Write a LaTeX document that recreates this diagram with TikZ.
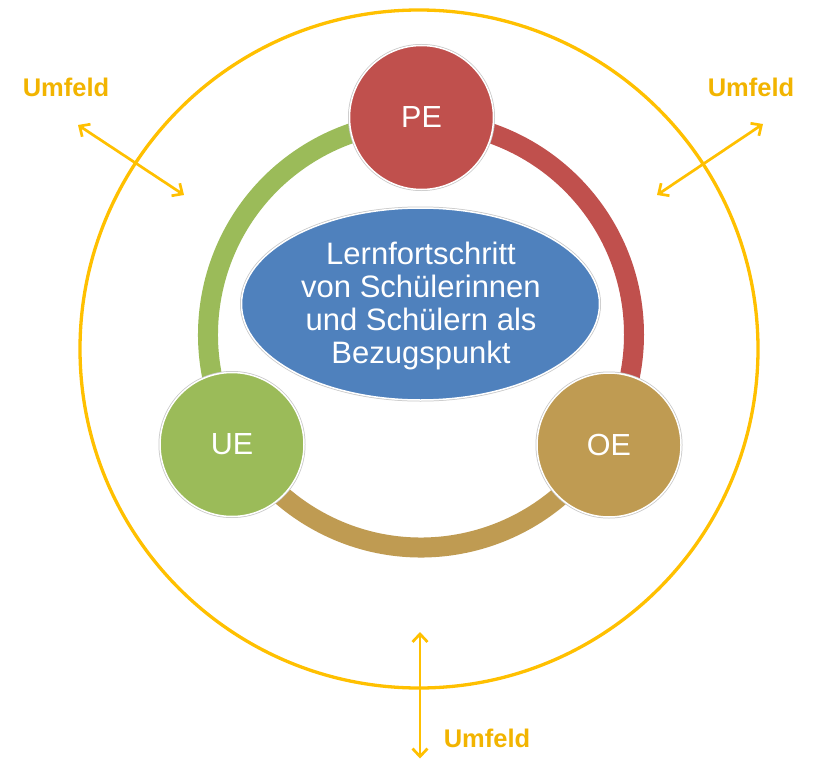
\documentclass[tikz,border=0pt]{standalone}
\usepackage{fontspec}
\setmainfont{Liberation Sans}
\usetikzlibrary{shapes.geometric,arrows.meta}
\definecolor{gold}{HTML}{FFC000}
\definecolor{goldtext}{HTML}{F2B400}
\definecolor{pered}{HTML}{C0504D}
\definecolor{uegreen}{HTML}{9BBB59}
\definecolor{oetan}{HTML}{BF9B52}
\definecolor{ellblue}{HTML}{4F81BD}
\begin{document}
\begin{tikzpicture}[x=1pt,y=-1pt,
  bubble/.style={circle, minimum size=144pt, inner sep=0pt, text=white,
    font=\fontsize{30.5}{36}\selectfont, draw=white, line width=1.5pt,
    preaction={draw=black!22, line width=3pt}},
  ringarc/.style={line width=20pt},
  envarrow/.style={draw=gold, line width=2.7pt,
    {Straight Barb[length=8pt,width=15pt]}-{Straight Barb[length=8pt,width=15pt]}},
  envlabel/.style={text=goldtext, font=\bfseries\fontsize{25.5}{30}\selectfont,
    anchor=base, inner sep=0pt}]
\useasboundingbox (0,0) rectangle (814,760);
\fill[white] (0,0) rectangle (814,760);

% outer environment circle
\coordinate (oc) at (419,349);
\draw[gold, line width=3.3pt] (oc) circle[radius=339];

% environment arrows
\coordinate (ulA) at (78,125); \coordinate (ulB) at (184,195);
\coordinate (urA) at (763,124); \coordinate (urB) at (657,195);
\coordinate (bA) at (420,632); \coordinate (bB) at (420,758.5);
\draw[envarrow] (ulA) -- (ulB);
\draw[envarrow] (urA) -- (urB);
\draw[envarrow] (bA) -- (bB);

% ring
\coordinate (rc) at (421,334.5);
\draw[ringarc, uegreen] ([shift={(149.8:213)}]rc) arc[start angle=149.8, end angle=270, radius=213];
\draw[ringarc, pered] ([shift={(-90:213)}]rc) arc[start angle=-90, end angle=30.4, radius=213];
\draw[ringarc, oetan] ([shift={(30.4:213)}]rc) arc[start angle=30.4, end angle=149.8, radius=213];

% centre ellipse
\node[ellipse, fill=ellblue, draw=white, line width=1.5pt,
  preaction={draw=black!22, line width=3pt},
  minimum width=358pt, minimum height=192pt, inner sep=0pt] (core) at (420.5,304) {};
\node[text=white, align=center, font=\fontsize{31}{33}\selectfont, inner sep=0pt]
  (coretext) at (421,306) {Lernfortschritt\\von Schülerinnen\\und Schülern als\\Bezugspunkt};

% bubbles
\node[bubble, fill=pered] (pe) at (421.5,117.5) {PE};
\node[bubble, fill=uegreen] (ue) at (232,444.5) {UE};
\node[bubble, fill=oetan] (oe) at (609,445) {OE};

% labels
\node[envlabel] (uml) at (66,96) {Umfeld};
\node[envlabel] (umr) at (751,96) {Umfeld};
\node[envlabel] (umb) at (487,747) {Umfeld};
\end{tikzpicture}
\end{document}
